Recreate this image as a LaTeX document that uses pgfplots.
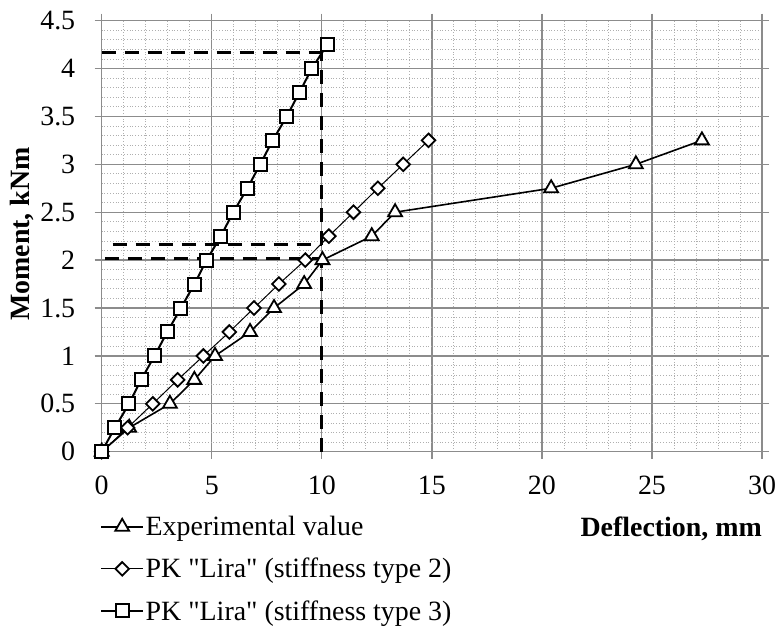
\documentclass[border=0pt]{standalone}
\usepackage{fontspec}
\setmainfont{Liberation Serif}
\usepackage{pgfplots}
\pgfplotsset{compat=1.18}
\definecolor{majgrid}{RGB}{140,140,140}
\definecolor{mingrid}{RGB}{175,175,175}
\newcommand{\bigf}{\fontsize{28}{33}\selectfont}
\begin{document}
\begin{tikzpicture}[x=1bp,y=1bp]
\useasboundingbox (-101.7bp,-180.3bp) rectangle (675.3bp,451.7bp);
\begin{axis}[
  at={(0,0)}, anchor=south west,
  scale only axis, width=660.3bp, height=431.1bp,
  xmin=0, xmax=30, ymin=0, ymax=4.5,
  xtick={0,5,...,30},
  ytick={0,0.5,1,1.5,2,2.5,3,3.5,4,4.5},
  yticklabels={0,0.5,1,1.5,2,2.5,3,3.5,4,4.5},
  minor x tick num=4, minor y tick num=4,
  grid=both,
  major grid style={majgrid, line width=1.3bp},
  minor grid style={mingrid, line width=0.8bp, dotted},
  axis line style={majgrid, line width=1.3bp},
  tick align=outside, major tick length=7bp, minor tick length=0pt,
  major tick style={majgrid, line width=1.3bp},
  tick label style={font=\bigf, /pgf/number format/assume math mode=true},
  xticklabel style={yshift=-14bp},
  yticklabel style={xshift=-16bp},
  xlabel={\bfseries Deflection, mm},
  xlabel style={at={(axis description cs:1,0)}, anchor=base east, yshift=-84.3bp, inner sep=0pt, font=\bigf},
  ylabel={\bfseries Moment, kNm},
  ylabel style={at={(axis description cs:-0.1207,0.505)}, anchor=center, inner sep=0pt, font=\bigf},
  legend cell align=left,
  legend style={at={(axis description cs:0,0)}, anchor=north west, xshift=-1.7bp, yshift=-63bp,
    draw=none, fill=none, inner sep=0pt, row sep=18bp,
    font=\bigf,
    nodes={inner sep=1.5bp}},
  legend image code/.code={\draw[mark repeat=2,mark phase=2] plot coordinates {(0bp,0bp) (21bp,0bp) (42bp,0bp)};},
]
\addplot[black, line width=1.6bp, mark=triangle*, mark size=8bp, mark options={fill=white, line width=1.8bp, solid}]
coordinates {(0,0) (1.25,0.25) (3.1,0.5) (4.21,0.75) (5.15,1.0) (6.74,1.25) (7.83,1.5) (9.2,1.75) (10.03,2.0) (12.27,2.25) (13.33,2.5) (20.42,2.75) (24.27,3.0) (27.27,3.25)};
\addlegendentry{Experimental value}
\addplot[black, line width=1.0bp, mark=square*, mark size=4.8bp, mark options={fill=white, line width=1.8bp, rotate=45, solid}]
coordinates {(0,0) (1.18,0.25) (2.32,0.5) (3.45,0.75) (4.62,1.0) (5.8,1.25) (6.92,1.5) (8.05,1.75) (9.25,2.0) (10.32,2.25) (11.44,2.5) (12.55,2.75) (13.7,3.0) (14.85,3.25)};
\addlegendentry{PK \textquotedbl Lira\textquotedbl{} (stiffness type 2)}
\addplot[black, line width=2.0bp, mark=square*, mark size=6.5bp, mark options={fill=white, line width=2.0bp, solid}]
coordinates {(0,0) (0.6,0.25) (1.24,0.5) (1.79,0.75) (2.4,1.0) (2.98,1.25) (3.6,1.5) (4.21,1.75) (4.77,2.0) (5.41,2.25) (5.98,2.5) (6.62,2.75) (7.2,3.0) (7.77,3.25) (8.41,3.5) (8.98,3.75) (9.55,4.0) (10.25,4.25)};
\addlegendentry{PK \textquotedbl Lira\textquotedbl{} (stiffness type 3)}
\addplot[black, line width=3bp, dash pattern=on 14bp off 9bp, forget plot] coordinates {(0,4.17) (10,4.17)};
\addplot[black, line width=3bp, dash pattern=on 14bp off 9bp, forget plot] coordinates {(0.5,2.16) (10,2.16)};
\addplot[black, line width=3bp, dash pattern=on 14bp off 9bp, forget plot] coordinates {(0.15,2.02) (10,2.02)};
\addplot[black, line width=3bp, dash pattern=on 14bp off 9bp, forget plot] coordinates {(10,0) (10,4.17)};
\end{axis}
\end{tikzpicture}
\end{document}
